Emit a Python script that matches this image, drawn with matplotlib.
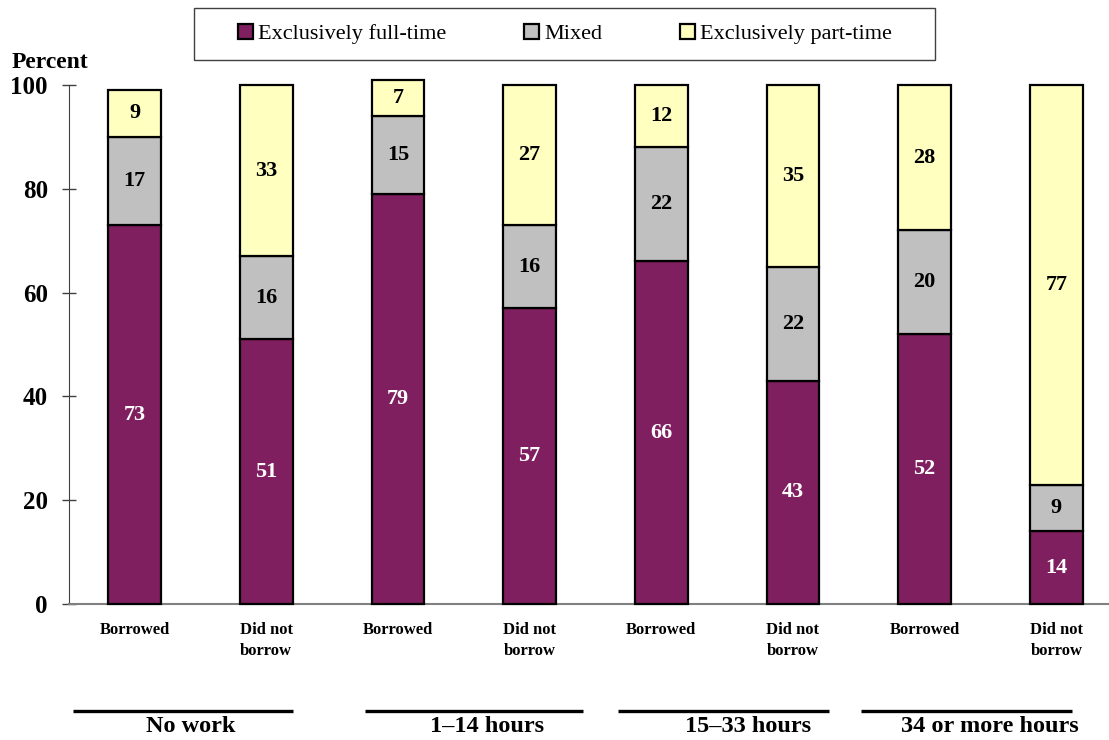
import matplotlib
matplotlib.use("Agg")
import matplotlib.pyplot as plt
import matplotlib.transforms as mtransforms
from matplotlib.patches import Patch, Rectangle
import numpy as np

plt.rcParams['font.family'] = ['Liberation Serif', 'DejaVu Serif']

# Data
bar_labels = ["Borrowed", "Did not\nborrow"] * 4
groups = ["No work", "1\u201314 hours", "15\u201333 hours", "34 or more hours"]
full_time = [73, 51, 79, 57, 66, 43, 52, 14]
mixed = [17, 16, 15, 16, 22, 22, 20, 9]
part_time = [9, 33, 7, 27, 12, 35, 28, 77]
series_names = ["Exclusively full-time", "Mixed", "Exclusively part-time"]

colors = ["#7f1f5f", "#c0c0c0", "#ffffc0"]
text_colors = ["white", "black", "black"]

W, H = 1109, 740
fig = plt.figure(figsize=(W / 100, H / 100), dpi=100)
ax = fig.add_axes([0.0619, 0.1838, 0.950, 0.7014])

x = np.arange(len(full_time))
width = 0.4
bottom = np.zeros(len(x))
for vals, col, tcol in zip([full_time, mixed, part_time], colors, text_colors):
    vals = np.array(vals, dtype=float)
    ax.bar(x, vals, width, bottom=bottom, color=col, edgecolor="black",
           linewidth=1.6, clip_on=False, zorder=3)
    for xi, b, v in zip(x, bottom, vals):
        ax.text(xi, b + v / 2, f"{int(v)}", ha="center", va="center",
                color=tcol, fontsize=16, fontweight="bold", zorder=4)
    bottom += vals

ax.set_xlim(-0.5, 7.5)
ax.set_ylim(0, 100)
ax.set_yticks([0, 20, 40, 60, 80, 100])
ax.tick_params(axis="y", direction="inout", length=10, width=1, color="#404040",
               pad=10, labelsize=18)
for lbl in ax.get_yticklabels():
    lbl.set_fontweight("bold")
ax.set_xticks(x)
ax.set_xticklabels(bar_labels, fontsize=12, fontweight="bold", linespacing=1.4)
ax.tick_params(axis="x", length=0, pad=13)

for s in ["top", "right"]:
    ax.spines[s].set_visible(False)
ax.spines["left"].set_color("#404040")
ax.spines["bottom"].set_color("#808080")
ax.spines["bottom"].set_linewidth(1.5)

fig.text(0.045, 0.915, "Percent", ha="center", va="center",
         fontsize=17, fontweight="bold")

# Group underlines and titles beneath the bar pairs
trans = mtransforms.blended_transform_factory(ax.transData, fig.transFigure)
line_spans = [(-0.467, 1.203), (1.75, 3.405), (3.67, 5.27), (5.52, 7.12)]
label_x = [0.43, 2.68, 4.66, 6.495]
for (x0, x1), lx, name in zip(line_spans, label_x, groups):
    ax.plot([x0, x1], [0.039, 0.039], transform=trans, color="black",
            linewidth=2.4, clip_on=False, solid_capstyle="butt")
    ax.text(lx, 0.018, name, transform=trans, ha="center", va="center",
            fontsize=17.5, fontweight="bold")

# Legend entries with a separate frame around them
handles = [Patch(facecolor=c, edgecolor="black", linewidth=1.6) for c in colors]
fig.legend(handles, series_names, loc="center", ncol=3,
           bbox_to_anchor=(565 / W, 1 - 34 / H), fontsize=16, frameon=False,
           handlelength=0.68, handleheight=0.68, handletextpad=0.22,
           columnspacing=3.5, borderpad=0, borderaxespad=0)
fig.patches.append(Rectangle((194 / W, 1 - 60 / H), (935 - 194) / W, 52 / H,
                             transform=fig.transFigure, fill=False,
                             edgecolor="#404040", linewidth=1.0))

fig.savefig("out.png", dpi=100)
